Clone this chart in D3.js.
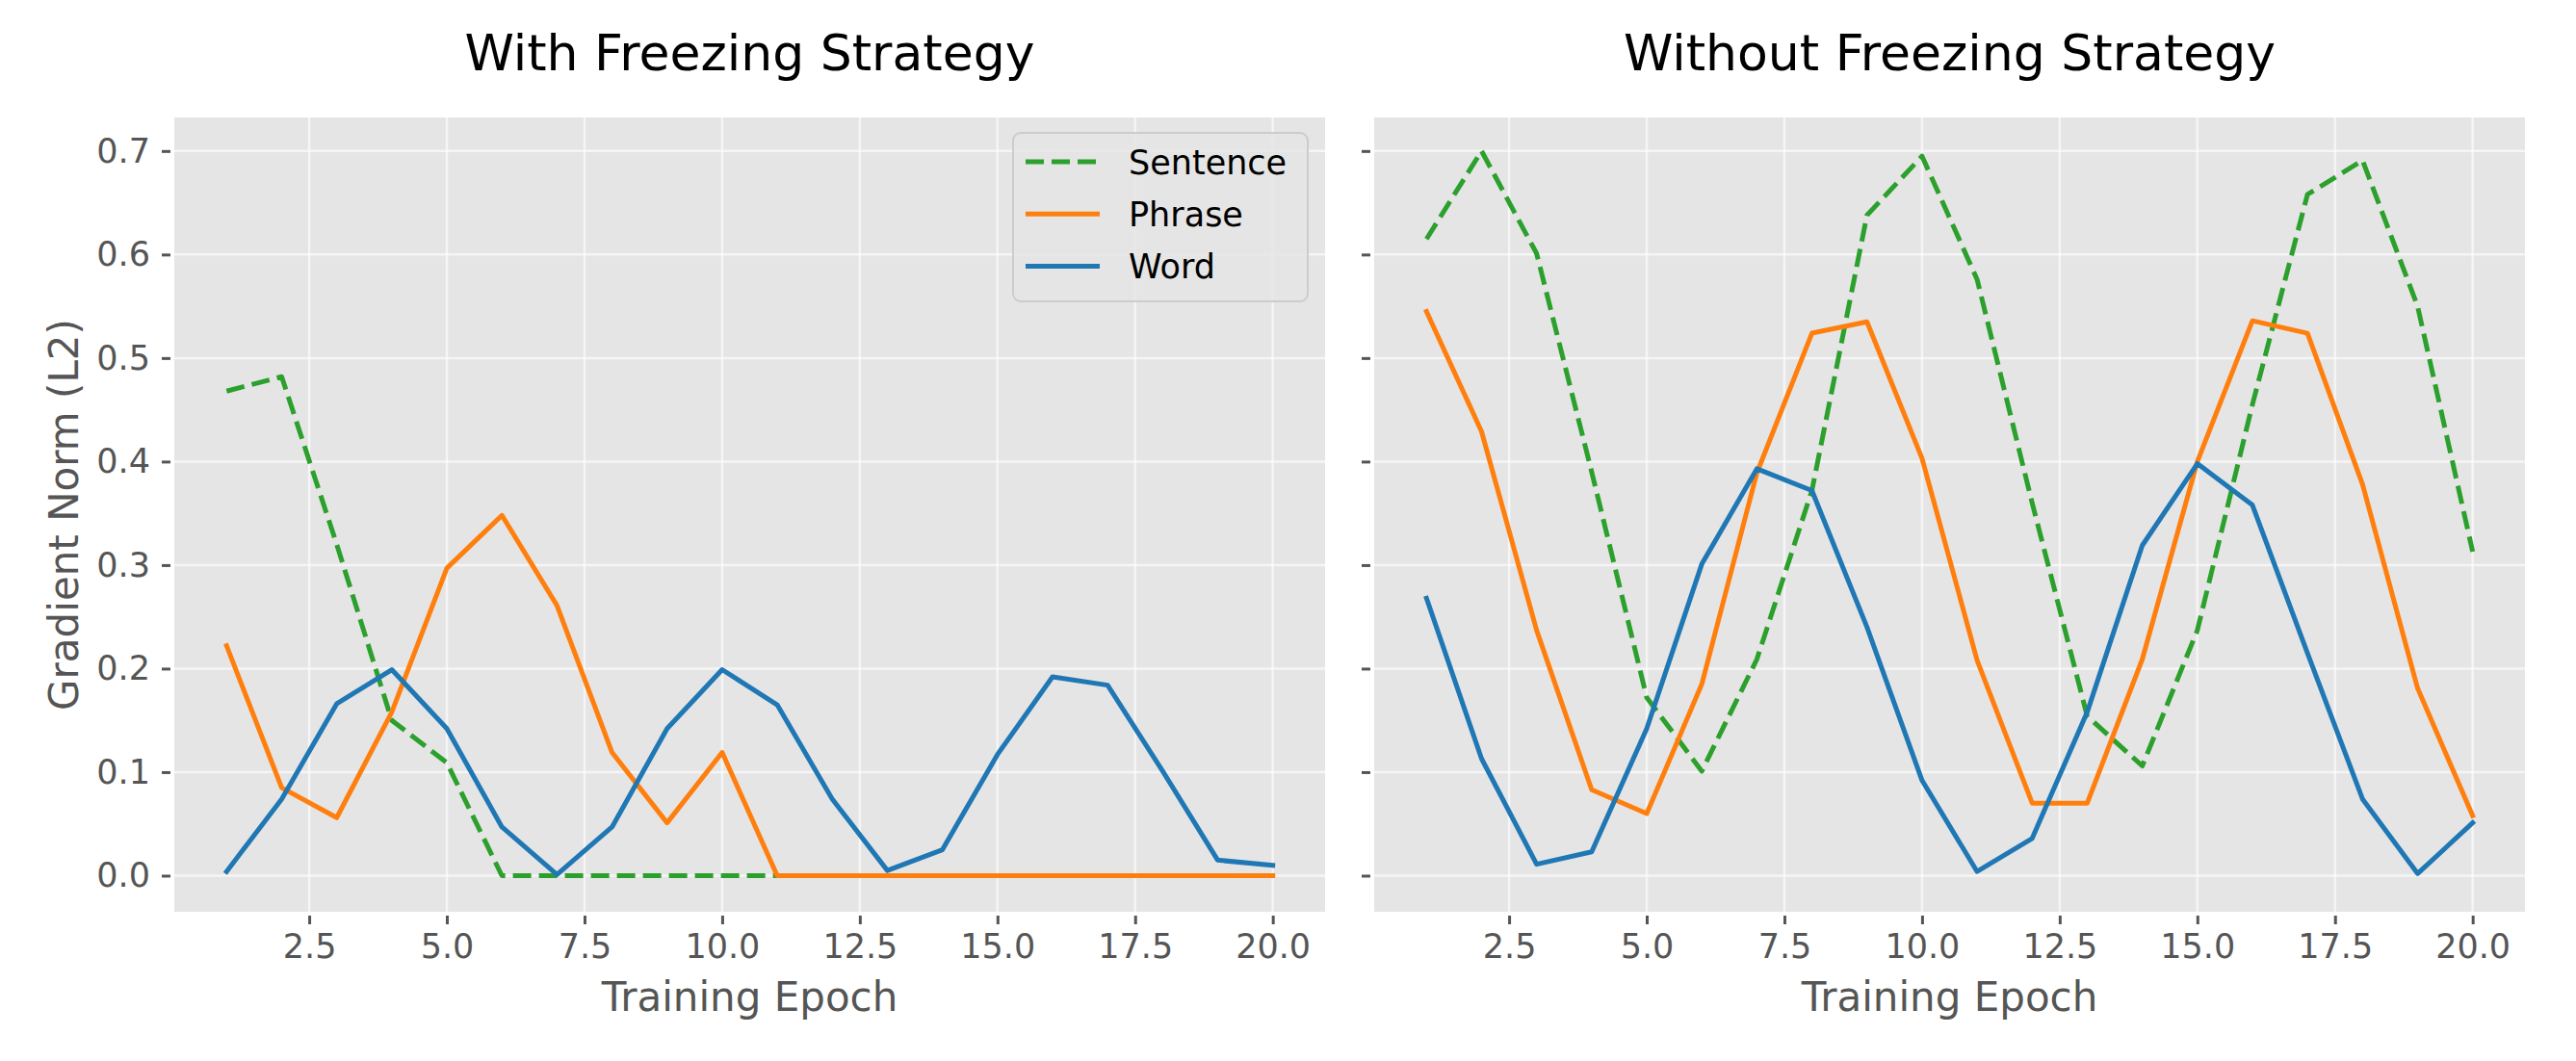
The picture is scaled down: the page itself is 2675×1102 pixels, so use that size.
<!DOCTYPE html>
<html>
<head>
<meta charset="utf-8">
<script src="https://cdn.jsdelivr.net/npm/d3@7"></script>
<style>
  html, body { margin: 0; padding: 0; background: #ffffff; }
  svg { display: block; }
  text { font-family: "DejaVu Sans", sans-serif; }
</style>
</head>
<body>
<svg id="chart" width="2675" height="1102"></svg>
<script>
// ---------- data ----------
const epochs = [1,2,3,4,5,6,7,8,9,10,11,12,13,14,15,16,17,18,19,20];
const seriesNames = ["Sentence", "Phrase", "Word"];
const panelTitles = ["With Freezing Strategy", "Without Freezing Strategy"];

const withSentence = [0.468,0.482,0.320,0.150,0.109,0,0,0,0,0,0,0,0,0,0,0,0,0,0,0];
const withPhrase   = [0.222,0.085,0.056,0.158,0.297,0.348,0.261,0.119,0.051,0.119,0,0,0,0,0,0,0,0,0,0];
const withWord     = [0.004,0.074,0.166,0.199,0.142,0.047,0.001,0.047,0.142,0.199,0.165,0.074,0.005,0.025,0.117,0.192,0.184,0.101,0.015,0.010];

const withoutSentence = [0.615,0.700,0.601,0.390,0.172,0.101,0.209,0.372,0.638,0.695,0.576,0.360,0.154,0.106,0.237,0.455,0.658,0.691,0.550,0.313];
const withoutPhrase   = [0.545,0.429,0.237,0.083,0.060,0.185,0.389,0.524,0.535,0.403,0.208,0.070,0.070,0.209,0.400,0.536,0.524,0.378,0.181,0.058];
const withoutWord     = [0.268,0.113,0.011,0.023,0.142,0.301,0.393,0.372,0.240,0.092,0.004,0.036,0.158,0.319,0.398,0.358,0.215,0.074,0.002,0.051];

const xTicks = [2.5,5.0,7.5,10.0,12.5,15.0,17.5,20.0];
const yTicks = [0.0,0.1,0.2,0.3,0.4,0.5,0.6,0.7];
const xLabel = "Training Epoch";
const yLabel = "Gradient Norm (L2)";

// ---------- styles ----------
const colors = { Sentence: "#2ca02c", Phrase: "#ff7f0e", Word: "#1f77b4" };
const dashes = { Sentence: "19,8", Phrase: null, Word: null };

const panels = [
  { title: panelTitles[0], left: 181, right: 1376, data: { Sentence: withSentence, Phrase: withPhrase, Word: withWord }, showY: true, legend: true },
  { title: panelTitles[1], left: 1427, right: 2622, data: { Sentence: withoutSentence, Phrase: withoutPhrase, Word: withoutWord }, showY: false, legend: false }
];
const plotTop = 122, plotBottom = 947;

const svg = d3.select("#chart");

const yScale = d3.scaleLinear().domain([-0.0349, 0.7324]).range([plotBottom, plotTop]);

panels.forEach(p => {
  const x = d3.scaleLinear().domain([0.05, 20.95]).range([p.left, p.right]);
  const g = svg.append("g");

  // background
  g.append("rect").attr("x", p.left).attr("y", plotTop)
    .attr("width", p.right - p.left).attr("height", plotBottom - plotTop)
    .attr("fill", "#e5e5e5");

  // grid
  g.selectAll(".gx").data(xTicks).enter().append("line")
    .attr("x1", d => x(d)).attr("x2", d => x(d))
    .attr("y1", plotTop).attr("y2", plotBottom)
    .attr("stroke", "#ffffff").attr("stroke-opacity", 0.6).attr("stroke-width", 2.5);
  g.selectAll(".gy").data(yTicks).enter().append("line")
    .attr("x1", p.left).attr("x2", p.right)
    .attr("y1", d => yScale(d)).attr("y2", d => yScale(d))
    .attr("stroke", "#ffffff").attr("stroke-opacity", 0.6).attr("stroke-width", 2.5);

  // x axis
  const xAxis = d3.axisBottom(x).tickValues(xTicks).tickFormat(d3.format(".1f"))
    .tickSizeInner(9).tickSizeOuter(0).tickPadding(10);
  const xa = g.append("g").attr("transform", `translate(0,${plotBottom + 4})`).call(xAxis);
  xa.select(".domain").remove();
  xa.selectAll(".tick line").attr("stroke", "#555555").attr("stroke-width", 3);
  xa.selectAll(".tick text").attr("fill", "#555555").attr("font-size", 35)
    .attr("font-family", "DejaVu Sans");

  // y axis
  const yAxis = d3.axisLeft(yScale).tickValues(yTicks).tickFormat(d3.format(".1f"))
    .tickSizeInner(9).tickSizeOuter(0).tickPadding(12);
  const ya = g.append("g").attr("transform", `translate(${p.left - 4},0)`).call(yAxis);
  ya.select(".domain").remove();
  ya.selectAll(".tick line").attr("stroke", "#555555").attr("stroke-width", 3);
  if (p.showY) {
    ya.selectAll(".tick text").attr("fill", "#555555").attr("font-size", 35)
      .attr("font-family", "DejaVu Sans");
  } else {
    ya.selectAll(".tick text").remove();
  }

  // lines
  const line = d3.line().x((d, i) => x(epochs[i])).y(d => yScale(d));
  seriesNames.forEach(name => {
    g.append("path").datum(p.data[name])
      .attr("d", line)
      .attr("fill", "none")
      .attr("stroke", colors[name])
      .attr("stroke-width", 5)
      .attr("stroke-linejoin", "round")
      .attr("stroke-linecap", dashes[name] ? "butt" : "square")
      .attr("stroke-dasharray", dashes[name]);
  });

  // title
  svg.append("text").attr("x", (p.left + p.right) / 2).attr("y", 73)
    .attr("text-anchor", "middle").attr("font-size", 52).attr("fill", "#000000")
    .text(p.title);

  // x label
  svg.append("text").attr("x", (p.left + p.right) / 2).attr("y", 1050)
    .attr("text-anchor", "middle").attr("font-size", 42).attr("fill", "#555555")
    .text(xLabel);

  if (p.showY) {
    svg.append("text")
      .attr("transform", `translate(81,${(plotTop + plotBottom) / 2}) rotate(-90)`)
      .attr("text-anchor", "middle").attr("font-size", 42).attr("fill", "#555555")
      .text(yLabel);
  }

  if (p.legend) {
    const lg = svg.append("g");
    lg.append("rect").attr("x", 1052).attr("y", 138)
      .attr("width", 306).attr("height", 175).attr("rx", 8).attr("ry", 8)
      .attr("fill", "#e5e5e5").attr("fill-opacity", 0.8)
      .attr("stroke", "#cccccc").attr("stroke-width", 2);
    seriesNames.forEach((name, i) => {
      const cy = 168 + i * 54.3;
      lg.append("line").attr("x1", 1065).attr("x2", 1142)
        .attr("y1", cy).attr("y2", cy)
        .attr("stroke", colors[name]).attr("stroke-width", 5)
        .attr("stroke-dasharray", dashes[name]);
      lg.append("text").attr("x", 1172).attr("y", cy).attr("dy", "0.36em")
        .attr("font-size", 35).attr("fill", "#000000").text(name);
    });
  }
});
</script>
</body>
</html>
